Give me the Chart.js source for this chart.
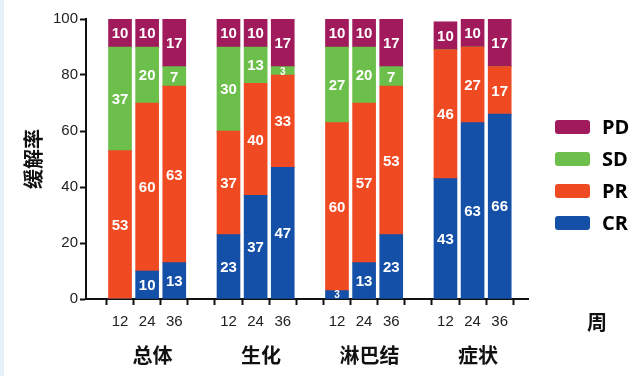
<!DOCTYPE html>
<html>
<head>
<meta charset="utf-8">
<script src="https://cdn.jsdelivr.net/npm/chart.js@4"></script>
<style>
  body { margin: 0; background: linear-gradient(to right, #e6f1fb 4px, #fff 4px); }
  #wrap { width: 640px; height: 376px; }
</style>
</head>
<body>
<div id="wrap"><canvas id="responseChart" width="640" height="376"></canvas></div>
<script>
const groups = ["总体", "生化", "淋巴结", "症状"];
const weeks = ["12", "24", "36"];
const seriesNames = ["CR", "PR", "SD", "PD"];
const crValues = [0, 10, 13, 23, 37, 47, 3, 13, 23, 43, 63, 66];
const prValues = [53, 60, 63, 37, 40, 33, 60, 57, 53, 46, 27, 17];
const sdValues = [37, 20, 7, 30, 13, 3, 27, 20, 7, 0, 0, 0];
const pdValues = [10, 10, 17, 10, 10, 17, 10, 10, 17, 10, 10, 17];
const yTicks = [0, 20, 40, 60, 80, 100];

const colors = { CR: "#1550a8", PR: "#f04a23", SD: "#6cbf4a", PD: "#a01a5c" };
const numFont = "'Liberation Sans', Arial, sans-serif";
const cjkFont = "'Noto Sans CJK SC', sans-serif";

// one empty slot between groups
const slotOf = (i) => Math.floor(i / 3) * 4 + (i % 3);
const toPoints = (arr) => arr.map((v, i) => ({ x: slotOf(i), y: v }));
const slotLabel = (v) => (v % 4 === 3 ? "" : weeks[v % 4]);

const valueLabels = {
    id: "valueLabels",
    afterDatasetsDraw(chart) {
        const ctx = chart.ctx;
        ctx.save();
        ctx.fillStyle = "#fff";
        ctx.textAlign = "center";
        ctx.textBaseline = "middle";
        chart.data.datasets.forEach((ds, di) => {
            chart.getDatasetMeta(di).data.forEach((bar, i) => {
                const v = ds.data[i].y;
                if (!v) return;
                ctx.font = (v < 5 ? "bold 10px " : "bold 15px ") + numFont;
                ctx.fillText(String(v), bar.x, (bar.y + bar.base) / 2 + 1);
            });
        });
        ctx.restore();
    }
};

const sideLegend = {
    id: "sideLegend",
    afterDraw(chart) {
        const ctx = chart.ctx;
        const xScale = chart.scales.x;
        ctx.save();
        ["PD", "SD", "PR", "CR"].forEach((name, i) => {
            const cy = 127 + i * 32;
            ctx.fillStyle = colors[name];
            ctx.beginPath();
            ctx.roundRect(555, cy - 7, 35, 14, 3);
            ctx.fill();
            ctx.fillStyle = "#000";
            ctx.font = "bold 20px 'Open Sans', sans-serif";
            ctx.textAlign = "left";
            ctx.textBaseline = "middle";
            ctx.fillText(name, 602, cy + 1);
        });
        ctx.font = "bold 20px " + cjkFont;
        ctx.textAlign = "center";
        ctx.fillStyle = "#111";
        ctx.fillText("周", 597, 322);
        // group names under the week ticks
        groups.forEach((g, i) => {
            ctx.fillText(g, xScale.getPixelForValue(i * 4 + 1.2), 355);
        });
        ctx.restore();
    }
};

new Chart(document.getElementById("responseChart"), {
    type: "bar",
    data: {
        datasets: [
            { label: "CR", data: toPoints(crValues), backgroundColor: colors.CR },
            { label: "PR", data: toPoints(prValues), backgroundColor: colors.PR },
            { label: "SD", data: toPoints(sdValues), backgroundColor: colors.SD },
            { label: "PD", data: toPoints(pdValues), backgroundColor: colors.PD },
        ],
    },
    options: {
        responsive: false,
        animation: false,
        barThickness: 23,
        layout: { padding: { left: 21, top: 19, right: 112, bottom: 37 } },
        plugins: { legend: { display: false }, tooltip: { enabled: false } },
        scales: {
            x: {
                type: "linear",
                stacked: true,
                min: -0.71,
                max: 14.5,
                afterBuildTicks: (axis) => {
                    axis.ticks = Array.from({ length: 15 }, (_, v) => ({ value: v }));
                },
                ticks: {
                    callback: (v) => slotLabel(v),
                    font: { size: 15, family: numFont },
                    color: "#222",
                    padding: 8,
                    maxRotation: 0,
                    autoSkip: false,
                },
                grid: { drawOnChartArea: false, tickLength: 6, tickWidth: 2, tickColor: "#111" },
                border: { color: "#111", width: 2 },
            },
            y: {
                stacked: true,
                min: 0,
                max: 100,
                afterBuildTicks: (axis) => {
                    axis.ticks = yTicks.map((v) => ({ value: v }));
                },
                ticks: { font: { size: 15, family: numFont }, color: "#222", padding: 2 },
                grid: { drawOnChartArea: false, tickLength: 6, tickWidth: 2, tickColor: "#111" },
                border: { color: "#111", width: 2 },
                title: {
                    display: true,
                    text: "缓解率",
                    font: { size: 20, weight: "bold", family: cjkFont },
                    color: "#111",
                    padding: { top: 0, bottom: 6 },
                },
            },
        },
    },
    plugins: [valueLabels, sideLegend],
});
</script>
</body>
</html>
